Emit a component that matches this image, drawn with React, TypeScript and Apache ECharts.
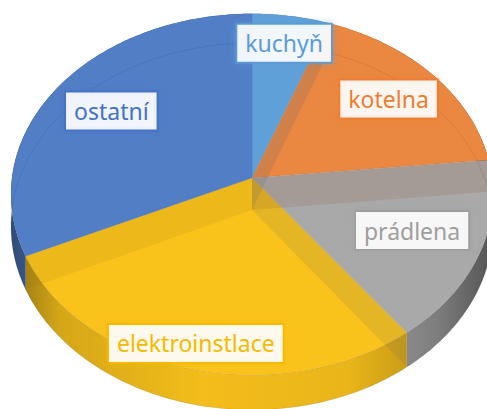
import React, { useEffect, useRef } from 'react';
import * as echarts from 'echarts';

// ---- data ----
const CATEGORIES = ['kuchyň', 'kotelna', 'prádlena', 'elektroinstlace', 'ostatní'];
const VALUES = [5.6, 17.8, 16.4, 28.3, 31.9];

// ---- styles ----
const TOP_COLORS = ['#60A0D8', '#EA8741', '#A9A9A9', '#FAC31C', '#527EC6'];
const LABEL_COLORS = ['#5B9BD5', '#ED7D31', '#9E9E9E', '#F5B900', '#4472C4'];
const LABEL_R = [0.82, 0.75, 0.71, 0.88, 0.72];

const CX = 252, CY = 178, RX = 240, RY = 179, K = 0.09, H = 32;

const TOTAL = VALUES.reduce((s, v) => s + v, 0);
const STARTS: number[] = [];
{
  let acc = 0;
  VALUES.forEach((v) => { STARTS.push((acc / TOTAL) * Math.PI * 2); acc += v; });
}

function proj(a: number, r: number, z: number): number[] {
  const u = r * Math.sin(a);
  const v = -r * Math.cos(a);
  const d = 1 - K * v;
  return [CX + (RX * u) / d, CY + (RY * v + H * z) / d];
}
function arcPts(a0: number, a1: number, z: number): number[][] {
  const n = Math.max(2, Math.ceil(Math.abs(a1 - a0) / (Math.PI / 180)));
  const pts: number[][] = [];
  for (let k = 0; k <= n; k++) pts.push(proj(a0 + ((a1 - a0) * k) / n, 1, z));
  return pts;
}
function rgb(hex: string) {
  const h = hex.replace('#', '');
  return [parseInt(h.slice(0, 2), 16), parseInt(h.slice(2, 4), 16), parseInt(h.slice(4, 6), 16)];
}
function shade(hex: string, f: number) {
  const [r, g, b] = rgb(hex);
  return `rgb(${Math.round(r * f)},${Math.round(g * f)},${Math.round(b * f)})`;
}
function alpha(hex: string, a: number) {
  const [r, g, b] = rgb(hex);
  return `rgba(${r},${g},${b},${a})`;
}

function renderItem(params: any, api: any) {
  const i = params.dataIndex;
  const v = api.value(0) as number;
  const a0 = STARTS[i];
  const a1 = a0 + (v / TOTAL) * Math.PI * 2;
  const c = TOP_COLORS[i];
  const prev = TOP_COLORS[(i + VALUES.length - 1) % VALUES.length];
  const children: any[] = [];

  // outer wall
  const wall = arcPts(a0, a1, 0).concat(arcPts(a1, a0, 1));
  children.push({
    type: 'polygon',
    z2: 1,
    shape: { points: wall },
    style: {
      fill: {
        type: 'linear', x: CX - RX, y: 0, x2: CX + RX, y2: 0, global: true,
        colorStops: [
          { offset: 0, color: shade(c, 0.6) },
          { offset: 0.1, color: shade(c, 0.85) },
          { offset: 0.4, color: shade(c, 0.97) },
          { offset: 0.7, color: shade(c, 0.93) },
          { offset: 0.88, color: shade(c, 0.75) },
          { offset: 1, color: shade(c, 0.5) },
        ],
      },
      stroke: 'rgba(0,0,0,0.06)',
      lineWidth: 0.6,
    },
  });

  // top face
  const top = [proj(0, 0, 0)].concat(arcPts(a0, a1, 0));
  children.push({
    type: 'polygon',
    z2: 2,
    shape: { points: top },
    style: { fill: c, stroke: 'rgba(0,0,0,0.08)', lineWidth: 0.7 },
  });

  // see-through radial wall at the slice start (shared with previous slice)
  const quad = [proj(0, 0, 0), proj(a0, 1, 0), proj(a0, 1, 1), proj(0, 0, 1)];
  children.push({
    type: 'polygon',
    z2: 3,
    shape: { points: quad },
    style: { fill: alpha(prev, 0.09) },
  });
  children.push({
    type: 'polygon',
    z2: 3,
    shape: { points: quad },
    style: { fill: 'rgba(0,0,0,0.055)' },
  });

  // see-through bottom rim line
  children.push({
    type: 'polyline',
    z2: 4,
    shape: { points: arcPts(a0, a1, 1) },
    style: { stroke: 'rgba(0,0,0,0.1)', lineWidth: 0.8, fill: null },
  });

  // label
  const mid = (a0 + a1) / 2;
  const [lx, ly] = proj(mid, LABEL_R[i], 0);
  children.push({
    type: 'text',
    z2: 10,
    x: lx,
    y: ly,
    style: {
      text: CATEGORIES[i],
      fill: LABEL_COLORS[i],
      font: '23px "Noto Sans"',
      align: 'center',
      verticalAlign: 'middle',
      backgroundColor: 'rgba(255,255,255,0.9)',
      borderColor: alpha(LABEL_COLORS[i], 0.85),
      borderWidth: 2,
      padding: [7, 8, 7, 8],
      shadowBlur: 7,
      shadowColor: alpha(LABEL_COLORS[i], 0.55),
    },
  });

  return { type: 'group', children };
}

export default function App() {
  const ref = useRef<HTMLDivElement>(null);
  useEffect(() => {
    if (!ref.current) return;
    const chart = echarts.init(ref.current, undefined, { renderer: 'svg' });
    chart.setOption({
      animation: false,
      backgroundColor: '#ffffff',
      series: [
        {
          type: 'custom',
          coordinateSystem: 'none',
          renderItem,
          data: VALUES.map((v, i) => ({ value: v, name: CATEGORIES[i] })),
        },
      ],
    });
    return () => chart.dispose();
  }, []);
  return (
    <div
      ref={ref}
      style={{ position: 'fixed', left: 0, top: 0, width: 487, height: 409, background: '#fff' }}
    />
  );
}
